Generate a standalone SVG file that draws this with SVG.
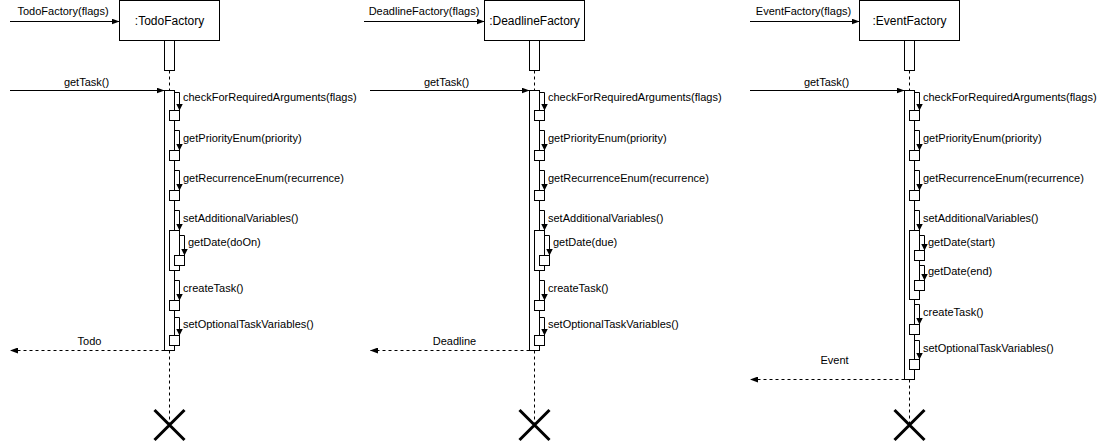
<svg xmlns="http://www.w3.org/2000/svg" width="1098" height="442" viewBox="0 0 1098 442">
  <defs>
    <marker id="block" viewBox="0 0 8 6" refX="8" refY="3" markerWidth="8" markerHeight="6" orient="auto" markerUnits="userSpaceOnUse">
      <path d="M0,0 L8,3 L0,6 z" fill="#000"/>
    </marker>
    <marker id="blockSmall" viewBox="0 0 7 7" refX="7" refY="3.5" markerWidth="7" markerHeight="7" orient="auto" markerUnits="userSpaceOnUse">
      <path d="M0,0 L7,3.5 L0,7 z" fill="#000"/>
    </marker>
  </defs>
  <style>
    .head { fill: #fff; stroke: #000; stroke-width: 1; }
    .bar { fill: #fff; stroke: #000; stroke-width: 1; }
    .life { fill: none; stroke: #000; stroke-width: 1; stroke-dasharray: 3 3; }
    .kill { fill: none; stroke: #000; stroke-width: 3; }
    .msg { fill: none; stroke: #000; stroke-width: 1; marker-end: url(#block); }
    .self { fill: none; stroke: #000; stroke-width: 1; marker-end: url(#blockSmall); }
    .ret { fill: none; stroke: #000; stroke-width: 1; stroke-dasharray: 3 3; marker-end: url(#block); }
    text { font-family: "Liberation Sans", Arial, Helvetica, sans-serif; font-size: 11px; fill: #000; }
    .title { font-size: 12px; text-anchor: middle; }
    .mid { text-anchor: middle; }
  </style>
  <rect width="1098" height="442" fill="#fff"/>

  <!-- lifeline dashes and destruction marks -->
  <g id="lifelines">
    <path class="life" d="M169.5,70.5 V90.5 M169.5,350.5 V425"/>
    <path class="life" d="M534.5,70.5 V90.5 M534.5,350.5 V425"/>
    <path class="life" d="M909.5,70.5 V90.5 M909.5,379.5 V425"/>
  </g>

  <!-- :TodoFactory -->
  <g id="todo-factory">
    <rect class="head" x="119.5" y="0.5" width="100" height="40"/>
    <text class="title" x="169.5" y="24.5">:TodoFactory</text>
    <rect class="bar" x="164.5" y="40.5" width="10" height="30"/>
    <rect class="bar" x="164.5" y="90.5" width="10" height="260"/>
    <rect class="bar" x="169.5" y="110.5" width="10" height="10"/>
    <rect class="bar" x="169.5" y="150.5" width="10" height="10"/>
    <rect class="bar" x="169.5" y="190.5" width="10" height="10"/>
    <rect class="bar" x="169.5" y="230.5" width="10" height="40"/>
    <rect class="bar" x="174.5" y="255.5" width="10" height="10"/>
    <rect class="bar" x="169.5" y="300.5" width="10" height="10"/>
    <rect class="bar" x="169.5" y="335.5" width="10" height="10"/>
    <path class="kill" d="M154.5,410 L184.5,440 M184.5,410 L154.5,440"/>
  </g>

  <!-- :DeadlineFactory -->
  <g id="deadline-factory">
    <rect class="head" x="484.5" y="0.5" width="100" height="40"/>
    <text class="title" x="534.5" y="24.5">:DeadlineFactory</text>
    <rect class="bar" x="529.5" y="40.5" width="10" height="30"/>
    <rect class="bar" x="529.5" y="90.5" width="10" height="260"/>
    <rect class="bar" x="534.5" y="110.5" width="10" height="10"/>
    <rect class="bar" x="534.5" y="150.5" width="10" height="10"/>
    <rect class="bar" x="534.5" y="190.5" width="10" height="10"/>
    <rect class="bar" x="534.5" y="230.5" width="10" height="40"/>
    <rect class="bar" x="539.5" y="255.5" width="10" height="10"/>
    <rect class="bar" x="534.5" y="300.5" width="10" height="10"/>
    <rect class="bar" x="534.5" y="335.5" width="10" height="10"/>
    <path class="kill" d="M519.5,410 L549.5,440 M549.5,410 L519.5,440"/>
  </g>

  <!-- :EventFactory -->
  <g id="event-factory">
    <rect class="head" x="859.5" y="0.5" width="100" height="40"/>
    <text class="title" x="909.5" y="24.5">:EventFactory</text>
    <rect class="bar" x="904.5" y="40.5" width="10" height="30"/>
    <rect class="bar" x="904.5" y="90.5" width="10" height="289"/>
    <rect class="bar" x="909.5" y="110.5" width="10" height="10"/>
    <rect class="bar" x="909.5" y="150.5" width="10" height="10"/>
    <rect class="bar" x="909.5" y="190.5" width="10" height="10"/>
    <rect class="bar" x="909.5" y="230.5" width="10" height="69"/>
    <rect class="bar" x="914.5" y="250.5" width="10" height="10"/>
    <rect class="bar" x="914.5" y="280.5" width="10" height="10"/>
    <rect class="bar" x="909.5" y="324.5" width="10" height="10"/>
    <rect class="bar" x="909.5" y="359.5" width="10" height="10"/>
    <path class="kill" d="M894.5,410 L924.5,440 M924.5,410 L894.5,440"/>
  </g>

  <!-- messages -->
  <g id="connectors">
    <!-- TodoFactory -->
    <path class="msg" d="M10,21.5 H119.5"/>
    <text class="mid" x="63" y="15">TodoFactory(flags)</text>
    <path class="msg" d="M10,90.5 H164.5"/>
    <text class="mid" x="86.5" y="85.5">getTask()</text>
    <path class="self" d="M174.5,92.5 H179.5 V110.5"/>
    <text x="183" y="100.5">checkForRequiredArguments(flags)</text>
    <path class="self" d="M174.5,130.5 H179.5 V150.5"/>
    <text x="183" y="141.5">getPriorityEnum(priority)</text>
    <path class="self" d="M174.5,170.5 H179.5 V190.5"/>
    <text x="183" y="181.5">getRecurrenceEnum(recurrence)</text>
    <path class="self" d="M174.5,210.5 H179.5 V230.5"/>
    <text x="183" y="221.5">setAdditionalVariables()</text>
    <path class="self" d="M179.5,235.5 H184.5 V255.5"/>
    <text x="188" y="246">getDate(doOn)</text>
    <path class="self" d="M174.5,280.5 H179.5 V300.5"/>
    <text x="183" y="292">createTask()</text>
    <path class="self" d="M174.5,317.5 H179.5 V335.5"/>
    <text x="183" y="327.5">setOptionalTaskVariables()</text>
    <path class="ret" d="M164.5,350.5 H10"/>
    <text class="mid" x="89.5" y="345">Todo</text>

    <!-- DeadlineFactory -->
    <path class="msg" d="M364,21.5 H484.5"/>
    <text class="mid" x="424" y="15">DeadlineFactory(flags)</text>
    <path class="msg" d="M370,90.5 H529.5"/>
    <text class="mid" x="446.5" y="85.5">getTask()</text>
    <path class="self" d="M539.5,92.5 H544.5 V110.5"/>
    <text x="548" y="100.5">checkForRequiredArguments(flags)</text>
    <path class="self" d="M539.5,130.5 H544.5 V150.5"/>
    <text x="548" y="141.5">getPriorityEnum(priority)</text>
    <path class="self" d="M539.5,170.5 H544.5 V190.5"/>
    <text x="548" y="181.5">getRecurrenceEnum(recurrence)</text>
    <path class="self" d="M539.5,210.5 H544.5 V230.5"/>
    <text x="548" y="221.5">setAdditionalVariables()</text>
    <path class="self" d="M544.5,235.5 H549.5 V255.5"/>
    <text x="553" y="246">getDate(due)</text>
    <path class="self" d="M539.5,280.5 H544.5 V300.5"/>
    <text x="548" y="292">createTask()</text>
    <path class="self" d="M539.5,317.5 H544.5 V335.5"/>
    <text x="548" y="327.5">setOptionalTaskVariables()</text>
    <path class="ret" d="M529.5,350.5 H370"/>
    <text class="mid" x="454.5" y="345">Deadline</text>

    <!-- EventFactory -->
    <path class="msg" d="M750,21.5 H859.5"/>
    <text class="mid" x="803.5" y="15">EventFactory(flags)</text>
    <path class="msg" d="M750,90.5 H904.5"/>
    <text class="mid" x="826.5" y="85.5">getTask()</text>
    <path class="self" d="M914.5,92.5 H919.5 V110.5"/>
    <text x="923" y="100.5">checkForRequiredArguments(flags)</text>
    <path class="self" d="M914.5,130.5 H919.5 V150.5"/>
    <text x="923" y="141.5">getPriorityEnum(priority)</text>
    <path class="self" d="M914.5,170.5 H919.5 V190.5"/>
    <text x="923" y="181.5">getRecurrenceEnum(recurrence)</text>
    <path class="self" d="M914.5,210.5 H919.5 V230.5"/>
    <text x="923" y="221.5">setAdditionalVariables()</text>
    <path class="self" d="M919.5,235.5 H924.5 V250.5"/>
    <text x="928" y="245.5">getDate(start)</text>
    <path class="self" d="M919.5,265.5 H924.5 V280.5"/>
    <text x="928" y="274.5">getDate(end)</text>
    <path class="self" d="M914.5,304.5 H919.5 V324.5"/>
    <text x="923" y="316">createTask()</text>
    <path class="self" d="M914.5,340.5 H919.5 V359.5"/>
    <text x="923" y="351.5">setOptionalTaskVariables()</text>
    <path class="ret" d="M904.5,379.5 H750"/>
    <text class="mid" x="834.5" y="364">Event</text>
  </g>
</svg>
